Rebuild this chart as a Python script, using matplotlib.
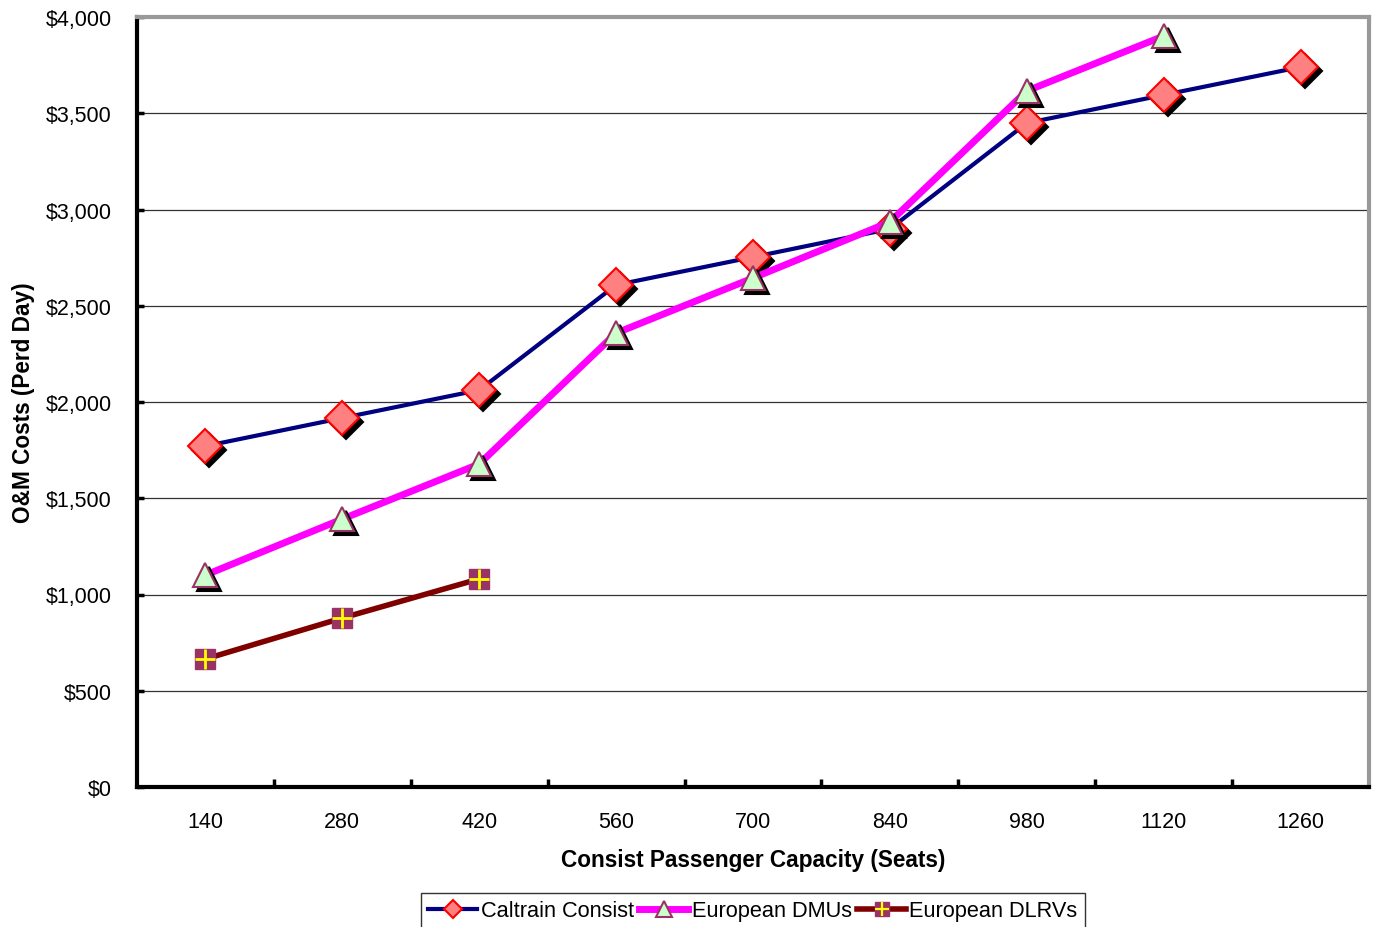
import matplotlib
matplotlib.use("Agg")
import matplotlib.pyplot as plt
import matplotlib.transforms as mtransforms
from matplotlib.ticker import FuncFormatter, MultipleLocator
from matplotlib.legend_handler import HandlerTuple

plt.rcParams['font.family'] = ['Liberation Sans', 'DejaVu Sans']

categories = ["140", "280", "420", "560", "700", "840", "980", "1120", "1260"]
caltrain = [1771, 1917, 2062, 2608, 2753, 2899, 3449, 3595, 3740]
dmu = [1101, 1392, 1678, 2358, 2644, 2935, 3616, 3901]
dlrv = [665, 878, 1081]
names = ["Caltrain Consist", "European DMUs", "European DLRVs"]

fig = plt.figure(figsize=(13.73, 9.28), dpi=100)
ax = fig.add_axes([137/1373, 1 - 788/928, (1369-137)/1373, (788-18)/928])

shadow = mtransforms.offset_copy(ax.transData, fig=fig, x=4, y=-4, units='dots')

handles = []
# Caltrain
xs = list(range(len(caltrain)))
ax.plot(xs, caltrain, color='#000080', lw=3, zorder=3)
ax.plot(xs, caltrain, ls='none', marker='D', ms=17, mfc='black', mec='black', mew=1.5,
        transform=shadow, zorder=3.1, clip_on=False)
ax.plot(xs, caltrain, ls='none', marker='D', ms=17, mfc='#FF8080', mec='#FF0000', mew=1.5,
        zorder=3.2, clip_on=False)
h, = ax.plot([], [], color='#000080', lw=3, marker='D', ms=9, mfc='#FF8080', mec='#FF0000', mew=1.5)
handles.append(h)

# DMU
xs = list(range(len(dmu)))
ax.plot(xs, dmu, color='#FF00FF', lw=5, zorder=4)
ax.plot(xs, dmu, ls='none', marker='^', ms=17, mfc='black', mec='black', mew=1.5,
        transform=shadow, zorder=4.1, clip_on=False)
ax.plot(xs, dmu, ls='none', marker='^', ms=17, mfc='#CCFFCC', mec='#993366', mew=1.5,
        zorder=4.2, clip_on=False)
h, = ax.plot([], [], color='#FF00FF', lw=5, marker='^', ms=11, mfc='#CCFFCC', mec='#993366', mew=1.5)
handles.append(h)

# DLRV
xs = list(range(len(dlrv)))
ax.plot(xs, dlrv, color='#800000', lw=4, zorder=5)
ax.plot(xs, dlrv, ls='none', marker='s', ms=14.5, mfc='#993366', mec='#993366',
        zorder=5.1, clip_on=False)
ax.plot(xs, dlrv, ls='none', marker='+', ms=15, mec='#FFFF00', mew=2,
        zorder=5.2, clip_on=False)
h1, = ax.plot([], [], color='#800000', lw=4, marker='s', ms=10, mfc='#993366', mec='#993366')
h2, = ax.plot([], [], ls='none', marker='+', ms=10, mec='#FFFF00', mew=1.6)
handles.append((h1, h2))

ax.set_xlim(-0.5, len(categories) - 0.5)
ax.set_ylim(0, 4000)
ax.set_xticks(range(len(categories)))
ax.set_xticklabels(categories)
ax.set_xticks([i + 0.5 for i in range(len(categories) - 1)], minor=True)
ax.tick_params(axis='x', which='major', length=0, pad=17, labelsize=15.5)
ax.tick_params(axis='x', which='minor', direction='in', length=6, width=2.5, color='black')
ax.yaxis.set_major_locator(MultipleLocator(500))
ax.yaxis.set_major_formatter(FuncFormatter(lambda v, p: "${:,.0f}".format(v)))
ax.tick_params(axis='y', direction='in', length=5, width=2.5, labelsize=15.5, pad=18)
ax.grid(axis='y', color='#333333', lw=0.9)
ax.set_axisbelow(True)

for s in ['left', 'bottom']:
    ax.spines[s].set_color('black')
    ax.spines[s].set_linewidth(3)
for s in ['top', 'right']:
    ax.spines[s].set_color('#999999')
    ax.spines[s].set_linewidth(3)

ax.set_xlabel("Consist Passenger Capacity (Seats)", fontsize=16.3, fontweight='bold', labelpad=12)
ax.set_ylabel("O&M Costs (Perd Day)", fontsize=16.3, fontweight='bold', labelpad=8)

leg = fig.legend(handles, names, loc='lower center', ncol=3,
                 handler_map={tuple: HandlerTuple(ndivide=1)},
                 bbox_to_anchor=(753/1373, -0.014), fontsize=15.7, frameon=True, fancybox=False,
                 edgecolor='black', handlelength=2.25, handletextpad=0.15, columnspacing=0.25,
                 borderpad=0.35)
leg.get_frame().set_linewidth(1)

fig.savefig("out.png", dpi=100)
